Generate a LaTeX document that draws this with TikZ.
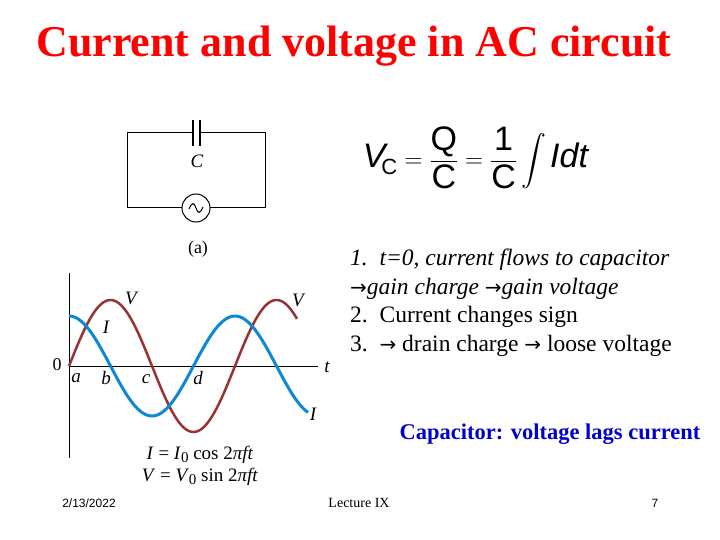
\documentclass[tikz,border=0pt]{standalone}
\usepackage{fontspec}
\setmainfont{Liberation Serif}
\newfontfamily\arial{Liberation Sans}
\newfontfamily\dv{DejaVu Sans}
\usepackage{amsmath}
\begin{document}
\begin{tikzpicture}[x=1pt,y=-1pt,
  lbl/.style={inner sep=0pt,font=\fontsize{19}{19}\selectfont\itshape},
  txt/.style={anchor=west,inner sep=0pt,font=\fontsize{23.5}{25}\selectfont}]
\useasboundingbox (0,0) rectangle (720,540);
\node[inner sep=0pt,text=red,font=\fontsize{44}{44}\selectfont\bfseries] (title) at (354,46) {Current and voltage in AC circuit};
% circuit
\coordinate (tl) at (127,133); \coordinate (tr) at (265,133);
\coordinate (bl) at (127,208); \coordinate (br) at (265,208);
\draw[line width=1pt] (193,133) -- (tl) -- (bl) -- (182,208);
\draw[line width=1pt] (200,133) -- (tr) -- (br) -- (210,208);
\draw[line width=1.6pt] (193,120) -- (193,146) (200,120) -- (200,146);
\node[lbl] (C) at (197,161) {C};
\node[circle,draw,line width=1pt,minimum size=28pt,inner sep=0pt] (src) at (196,208) {};
\draw[line width=1pt] (189,209) .. controls (192,202) and (194,202) .. (196,208) .. controls (198,214) and (200,214) .. (203,207);
\node[inner sep=0pt,font=\fontsize{18}{18}\selectfont] (a0) at (198,249) {(a)};
% graph
\draw[line width=0.8pt] (69,273) -- (69,458);
\draw[line width=0.8pt] (69,366) -- (318,366);
\draw[line width=2.5pt,color=red!50!black!80!white,domain=69:297,samples=120,smooth] plot (\x,{366-66*sin((\x-69)/166*360)});
\draw[line width=3pt,color=cyan!70!blue,domain=69:308,samples=120,smooth] plot (\x,{366-50*cos((\x-69)/166*360)});
\node[lbl] at (131,298) {V};
\node[lbl] at (106,327) {I};
\node[lbl] at (298,300) {V};
\node[lbl] at (313,414) {I};
\node[inner sep=0pt,font=\fontsize{18}{18}\selectfont] at (57,365) {0};
\node[lbl] at (76,378) {a};
\node[lbl] at (106,378) {b};
\node[lbl] at (146,379) {c};
\node[lbl] at (198,378) {d};
\node[lbl] at (327,367) {t};
\node[inner sep=0pt,font=\fontsize{19}{19}\selectfont] at (200,455) {\textit{I} = \textit{I}\raisebox{-3pt}{\fontsize{15}{15}\selectfont 0} cos 2\textit{πft}};
\node[inner sep=0pt,font=\fontsize{19}{19}\selectfont] at (200,477) {\textit{V} = \textit{V}\raisebox{-3pt}{\fontsize{15}{15}\selectfont 0} sin 2\textit{πft}};
% equation
\node[inner sep=0pt,font=\arial\fontsize{34}{34}\selectfont] (eq) at (476,158)
 {$\textit{V}_{\!\text{\fontsize{22}{22}\selectfont C}}=\dfrac{\text{Q}}{\text{C}}=\dfrac{\text{1}}{\text{C}}\displaystyle\int \text{\textit{Idt}}$};
% text
\node[txt,font=\fontsize{23.5}{25}\selectfont\itshape] at (350,260) {1.\ \ t=0, current flows to capacitor};
\node[txt,font=\fontsize{23.5}{25}\selectfont\itshape] at (350,289) {{\dv\upshape\fontsize{20}{20}\selectfont→}gain charge {\dv\upshape\fontsize{20}{20}\selectfont→}gain voltage};
\node[txt] at (350,317) {2.\ \ Current changes sign};
\node[txt] at (350,346) {3.\ \ {\dv\fontsize{20}{20}\selectfont→} drain charge {\dv\fontsize{20}{20}\selectfont→} loose voltage};
\node[inner sep=0pt,text=blue!80!black,font=\fontsize{22.5}{23}\selectfont\bfseries] at (550,434) {Capacitor: voltage lags current};
\node[inner sep=0pt,font=\arial\fontsize{12}{12}\selectfont] at (89,503) {2/13/2022};
\node[inner sep=0pt,font=\fontsize{14}{14}\selectfont] at (359,503) {Lecture IX};
\node[inner sep=0pt,font=\arial\fontsize{12}{12}\selectfont] at (655,503) {7};
\end{tikzpicture}
\end{document}
